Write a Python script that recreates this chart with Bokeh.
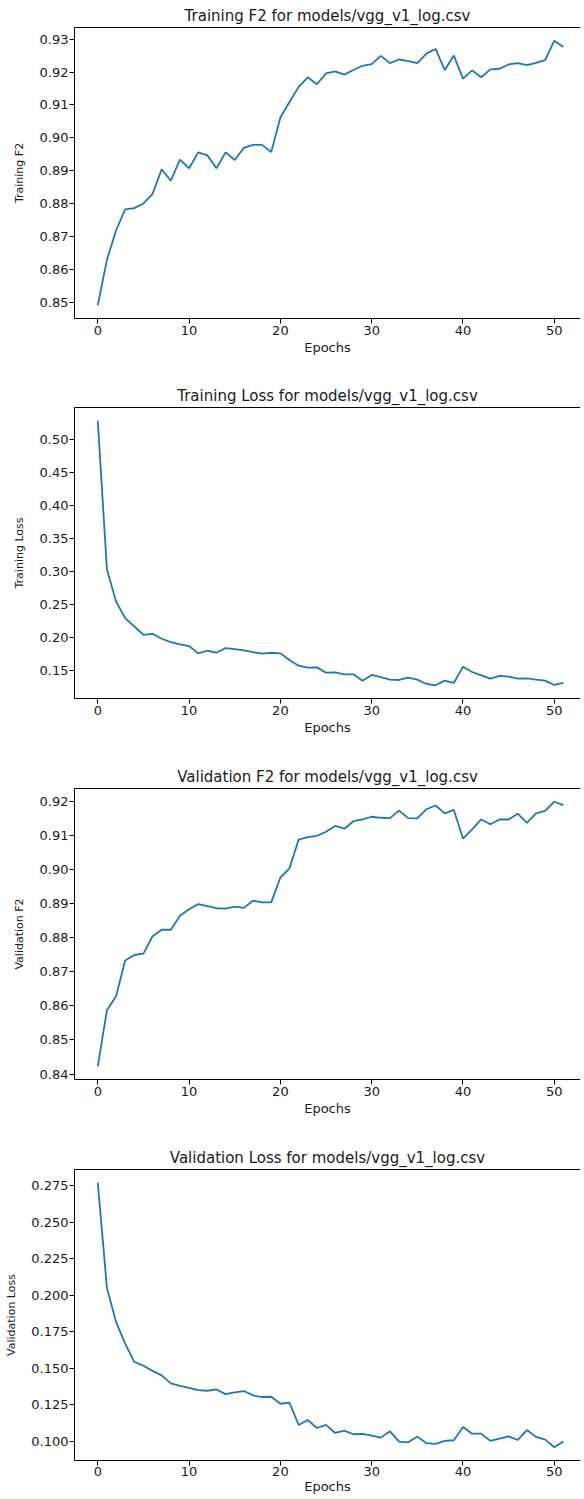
from bokeh.plotting import figure
from bokeh.layouts import column
from bokeh.models import Range1d, FixedTicker, LinearAxis
from bokeh.embed import file_html
from bokeh.resources import INLINE

epochs = list(range(52))

train_f2 = [0.8492, 0.8630, 0.8719, 0.8783, 0.8787, 0.8801, 0.8830, 0.8905, 0.8870, 0.8934,
            0.8908, 0.8956, 0.8947, 0.8908, 0.8956, 0.8933, 0.8970, 0.8979, 0.8979, 0.8957,
            0.9062, 0.9109, 0.9155, 0.9184, 0.9163, 0.9196, 0.9202, 0.9192, 0.9206, 0.9219,
            0.9224, 0.9249, 0.9227, 0.9238, 0.9233, 0.9227, 0.9256, 0.9270, 0.9206, 0.9250,
            0.9180, 0.9205, 0.9184, 0.9208, 0.9210, 0.9223, 0.9227, 0.9221, 0.9228, 0.9236,
            0.9295, 0.9276]

train_loss = [0.5282, 0.3031, 0.2543, 0.2291, 0.2165, 0.2039, 0.2054, 0.1979, 0.1928, 0.1893,
              0.1868, 0.1757, 0.1797, 0.1767, 0.1838, 0.1822, 0.1802, 0.1777, 0.1752, 0.1767,
              0.1757, 0.1656, 0.1571, 0.1540, 0.1545, 0.1465, 0.1470, 0.1440, 0.1440, 0.1344,
              0.1430, 0.1399, 0.1359, 0.1354, 0.1389, 0.1359, 0.1294, 0.1274, 0.1344, 0.1309,
              0.1556, 0.1475, 0.1425, 0.1374, 0.1415, 0.1404, 0.1374, 0.1379, 0.1359, 0.1344,
              0.1279, 0.1309]

val_f2 = [0.8423, 0.8587, 0.8628, 0.8733, 0.8749, 0.8753, 0.8804, 0.8823, 0.8823, 0.8864,
          0.8883, 0.8898, 0.8892, 0.8886, 0.8885, 0.8891, 0.8887, 0.8908, 0.8903, 0.8903,
          0.8976, 0.9003, 0.9087, 0.9094, 0.9098, 0.9110, 0.9127, 0.9119, 0.9141, 0.9146,
          0.9154, 0.9151, 0.9150, 0.9172, 0.9150, 0.9149, 0.9176, 0.9187, 0.9164, 0.9174,
          0.9090, 0.9117, 0.9146, 0.9132, 0.9146, 0.9146, 0.9163, 0.9136, 0.9164, 0.9171,
          0.9198, 0.9188]

val_loss = [0.2770, 0.2051, 0.1817, 0.1669, 0.1544, 0.1517, 0.1482, 0.1451, 0.1396, 0.1380,
            0.1366, 0.1350, 0.1346, 0.1355, 0.1323, 0.1335, 0.1344, 0.1314, 0.1303, 0.1305,
            0.1257, 0.1264, 0.1112, 0.1146, 0.1091, 0.1112, 0.1057, 0.1073, 0.1048, 0.1050,
            0.1039, 0.1025, 0.1068, 0.0998, 0.0993, 0.1032, 0.0987, 0.0982, 0.1003, 0.1007,
            0.1098, 0.1052, 0.1052, 0.1003, 0.1018, 0.1034, 0.1009, 0.1077, 0.1030, 0.1011,
            0.0959, 0.0998]

x_ticks = [0, 10, 20, 30, 40, 50]
train_f2_ticks = [0.85, 0.86, 0.87, 0.88, 0.89, 0.90, 0.91, 0.92, 0.93]
train_f2_labels = ["0.85", "0.86", "0.87", "0.88", "0.89", "0.90", "0.91", "0.92", "0.93"]
train_loss_ticks = [0.15, 0.20, 0.25, 0.30, 0.35, 0.40, 0.45, 0.50]
train_loss_labels = ["0.15", "0.20", "0.25", "0.30", "0.35", "0.40", "0.45", "0.50"]
val_f2_ticks = [0.84, 0.85, 0.86, 0.87, 0.88, 0.89, 0.90, 0.91, 0.92]
val_f2_labels = ["0.84", "0.85", "0.86", "0.87", "0.88", "0.89", "0.90", "0.91", "0.92"]
val_loss_ticks = [0.100, 0.125, 0.150, 0.175, 0.200, 0.225, 0.250, 0.275]
val_loss_labels = ["0.100", "0.125", "0.150", "0.175", "0.200", "0.225", "0.250", "0.275"]

FONT = "DejaVu Sans"
TXT = "#1a1a1a"
W = 580
LEFT = 74


def make(title, ylabel, values, yticks, ylabels, height, bottom, ylab_standoff,
         xlab_standoff=2, xtick_standoff=2):
    lo, hi = min(values), max(values)
    pad = (hi - lo) * 0.05
    x_end = -2.55 + (W - LEFT) / 9.13
    p = figure(width=W, height=height, output_backend="svg", toolbar_location=None,
               x_range=Range1d(-2.55, x_end), y_range=Range1d(lo - pad, hi + pad),
               min_border_left=LEFT, min_border_right=0, min_border_top=27,
               min_border_bottom=bottom, title=title)
    p.line(epochs, values, line_color="#1f77b4", line_width=1.8)
    p.title.text_font = FONT
    p.title.text_font_size = "15px"
    p.title.text_font_style = "normal"
    p.title.text_color = TXT
    p.title.align = "center"
    p.title.standoff = 5
    p.outline_line_color = None
    p.xgrid.visible = False
    p.ygrid.visible = False
    p.background_fill_color = "white"
    p.border_fill_color = "white"

    xa = p.below[0]
    ya = p.left[0]
    for ax in (xa, ya):
        ax.axis_line_color = "black"
        ax.axis_line_width = 1
        ax.major_tick_line_color = "black"
        ax.major_tick_out = 5
        ax.major_tick_in = 0
        ax.minor_tick_out = 0
        ax.minor_tick_in = 0
        ax.major_label_text_font = FONT
        ax.major_label_text_font_size = "13px"
        ax.major_label_text_color = TXT
        ax.axis_label_text_font = FONT
        ax.axis_label_text_font_style = "normal"
        ax.axis_label_text_color = TXT

    xa.ticker = FixedTicker(ticks=x_ticks)
    xa.axis_label = "Epochs"
    xa.axis_label_text_font_size = "13px"
    xa.major_label_standoff = xtick_standoff
    xa.axis_label_standoff = xlab_standoff

    ya.ticker = FixedTicker(ticks=yticks)
    ya.major_label_overrides = {t: s for t, s in zip(yticks, ylabels)}
    ya.axis_label = ylabel
    ya.axis_label_text_font_size = "11px"
    ya.major_label_standoff = 1
    ya.axis_label_standoff = ylab_standoff

    top = LinearAxis(ticker=FixedTicker(ticks=[]), major_tick_out=0, major_tick_in=0,
                     minor_tick_out=0, minor_tick_in=0, major_label_text_font_size="0px",
                     major_label_standoff=0, axis_line_color="black", axis_line_width=1)
    p.add_layout(top, "above")
    return p


p1 = make("Training F2 for models/vgg_v1_log.csv", "Training F2", train_f2,
          train_f2_ticks, train_f2_labels, 380, 62, 11)
p2 = make("Training Loss for models/vgg_v1_log.csv", "Training Loss", train_loss,
          train_loss_ticks, train_loss_labels, 381, 63, 11)
p3 = make("Validation F2 for models/vgg_v1_log.csv", "Validation F2", val_f2,
          val_f2_ticks, val_f2_labels, 381, 63, 11)
p4 = make("Validation Loss for models/vgg_v1_log.csv", "Validation Loss", val_loss,
          val_loss_ticks, val_loss_labels, 355, 37, 10, xlab_standoff=0, xtick_standoff=1)

layout = column(p1, p2, p3, p4, spacing=0)

open("out.html", "w").write(file_html(layout, INLINE))
